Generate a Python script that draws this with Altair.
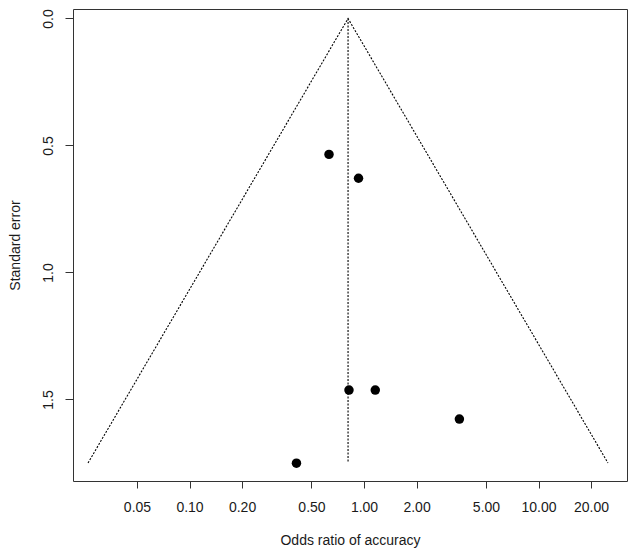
import altair as alt
import pandas as pd

# Study estimates (odds ratio, standard error)
study_or = [0.63, 0.93, 0.82, 1.16, 3.52, 0.41]
study_se = [0.535, 0.629, 1.463, 1.463, 1.577, 1.751]

# Funnel (pseudo 95% CI) and pooled estimate line
funnel_or = [0.0262, 0.81, 25.0]
funnel_se = [1.75, 0.0, 1.75]
center_or = [0.81, 0.81]
center_se = [0.0, 1.75]

x_ticks = [0.05, 0.1, 0.2, 0.5, 1, 2, 5, 10, 20]
y_ticks = [0.0, 0.5, 1.0, 1.5]

pts = pd.DataFrame({"or": study_or, "se": study_se})
fun = pd.DataFrame({"or": funnel_or, "se": funnel_se, "i": [0, 1, 2]})
cen = pd.DataFrame({"or": center_or, "se": center_se, "i": [0, 1]})

FONT = "Liberation Sans"
TXT = "#1a1a1a"

xscale = alt.Scale(type="log", domain=[0.02149, 32.14], nice=False)
yscale = alt.Scale(domain=[-0.0374, 1.821], reverse=True, nice=False, zero=False)

xaxis = alt.Axis(values=x_ticks, format=".2f", title="Odds ratio of accuracy",
                 grid=False, domain=False, tickSize=7, tickColor="#333",
                 labelPadding=12, titlePadding=19, labelFontSize=14, titleFontSize=14,
                 labelFont=FONT, titleFont=FONT, titleFontWeight="normal",
                 labelColor=TXT, titleColor=TXT, labelFlush=False, labelOverlap=False)
yaxis = alt.Axis(values=y_ticks, format=".1f", title="Standard error",
                 grid=False, domain=False, tickSize=8, tickColor="#333",
                 labelAngle=270, labelAlign="center", labelBaseline="bottom",
                 labelPadding=10, titlePadding=19, labelFontSize=14, titleFontSize=14,
                 labelFont=FONT, titleFont=FONT, titleFontWeight="normal",
                 labelColor=TXT, titleColor=TXT, labelFlush=False, labelOverlap=False)

x = alt.X("or:Q", scale=xscale, axis=xaxis)
y = alt.Y("se:Q", scale=yscale, axis=yaxis)

funnel = alt.Chart(fun).mark_line(color="black", strokeWidth=1.1, strokeDash=[2, 1.5]).encode(
    x=x, y=y, order="i:Q")
center = alt.Chart(cen).mark_line(color="black", strokeWidth=1.1, strokeDash=[2, 1.5]).encode(
    x=x, y=y, order="i:Q")
points = alt.Chart(pts).mark_circle(size=90, color="black", opacity=1).encode(x=x, y=y)

chart = alt.layer(funnel, center, points).properties(
    width=554, height=472,
    autosize=alt.AutoSizeParams(type="none"),
    padding={"left": 65, "top": 1, "right": 1, "bottom": 69},
).configure_view(stroke="#333", strokeWidth=1)

chart.save("out.html", embed_options={"renderer": "svg", "actions": False})
